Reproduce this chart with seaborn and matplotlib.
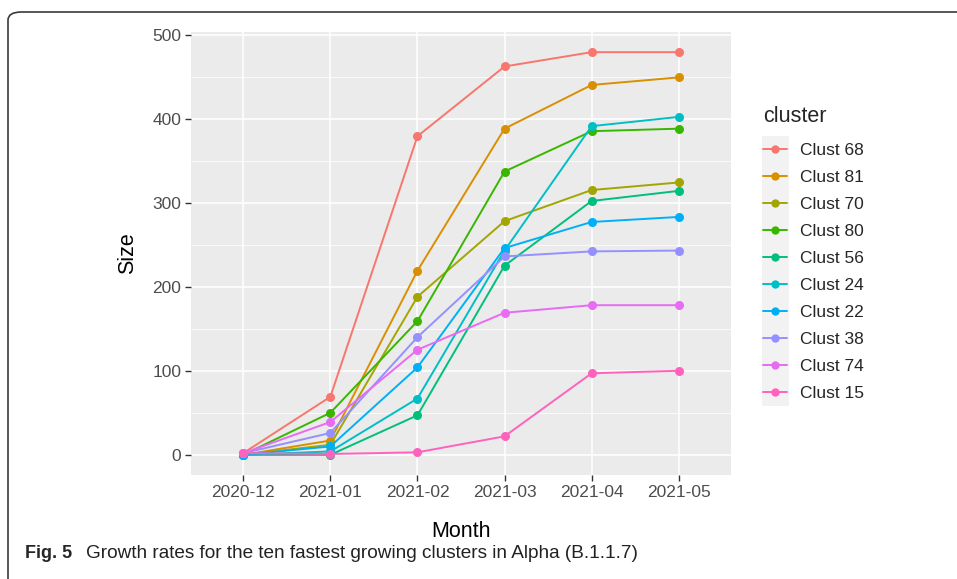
import pandas as pd
import numpy as np
import matplotlib.pyplot as plt
import seaborn as sns
from matplotlib.patches import FancyBboxPatch, Rectangle
from matplotlib.lines import Line2D

# Data

months = ['2020-12', '2021-01', '2021-02', '2021-03', '2021-04', '2021-05']
clusters = ['Clust 68', 'Clust 81', 'Clust 70', 'Clust 80', 'Clust 56',
            'Clust 24', 'Clust 22', 'Clust 38', 'Clust 74', 'Clust 15']

clust_68 = [2, 69, 379, 462, 479, 479]
clust_81 = [0, 17, 219, 388, 440, 449]
clust_70 = [0, 12, 188, 278, 315, 324]
clust_80 = [0, 50, 159, 337, 385, 388]
clust_56 = [0, 0, 47, 225, 302, 314]
clust_24 = [0, 4, 67, 243, 391, 402]
clust_22 = [0, 10, 104, 246, 277, 283]
clust_38 = [2, 26, 140, 236, 242, 243]
clust_74 = [2, 39, 125, 169, 178, 178]
clust_15 = [2, 1, 3, 22, 97, 100]

sizes = [clust_68, clust_81, clust_70, clust_80, clust_56,
         clust_24, clust_22, clust_38, clust_74, clust_15]

# ggplot2 default hue palette for 10 levels
gg_colors = ['#F8766D', '#D89000', '#A3A500', '#39B600', '#00BF7D',
             '#00BFC4', '#00B0F6', '#9590FF', '#E76BF3', '#FF62BC']

# long format table for seaborn
rows = []
for name, vals in zip(clusters, sizes):
    for m, v in zip(months, vals):
        rows.append({'Month': m, 'Size': v, 'cluster': name})
df = pd.DataFrame(rows)

#------------------------------------------------------------------------------

sns.set_theme(style='darkgrid')
plt.rcParams['font.family'] = ['Liberation Sans', 'DejaVu Sans']

W, H = 957, 579
fig = plt.figure(figsize=(W / 100, H / 100), dpi=100)
fig.patch.set_facecolor('white')

# panel position in pixels: left 191, right 731, top 32, bottom 475
ax = fig.add_axes([191 / W, 1 - 475 / H, (731 - 191) / W, (475 - 32) / H])
ax.set_facecolor('#EBEBEB')

sns.lineplot(data=df, x='Month', y='Size', hue='cluster', hue_order=clusters,
             palette=gg_colors, marker='o', markersize=6.5, markeredgewidth=0,
             linewidth=1.4, sort=False, ax=ax, legend=False)

ax.set_xlim(-0.6, 5.6)
ax.set_ylim(-24, 503)
ax.set_yticks([0, 100, 200, 300, 400, 500])
ax.set_yticks([50, 150, 250, 350, 450], minor=True)
ax.grid(True, which='major', color='white', linewidth=1.1)
ax.grid(True, which='minor', axis='y', color='white', linewidth=0.55)
ax.set_axisbelow(True)
for s in ax.spines.values():
    s.set_visible(False)

ax.tick_params(axis='both', which='major', length=4, width=1.0, color='#333333',
               labelsize=12.5, labelcolor='#4D4D4D', pad=3, direction='out')
ax.tick_params(axis='both', which='minor', length=0)
ax.tick_params(bottom=True, left=True)

ax.set_xlabel('Month', fontsize=15.5, color='black', labelpad=15)
ax.set_ylabel('Size', fontsize=15.5, color='black', labelpad=10)

# legend to the right like ggplot, keys with line + point
handles = [Line2D([], [], color=c, linewidth=1.4, marker='o', markersize=6,
                  markeredgewidth=0) for c in gg_colors]
leg = ax.legend(handles, clusters, title='cluster', loc='upper left',
                bbox_to_anchor=(756 / W, 1 - 99 / H),
                bbox_transform=fig.transFigure, frameon=False, fontsize=12.5,
                title_fontsize=15.5, handlelength=1.4, handletextpad=0.75,
                labelspacing=0.68, borderaxespad=0)
leg._legend_box.align = 'left'
leg._legend_box.sep = leg._legend_box.sep + 3  # a bit more room under the title

# grey key background behind legend keys (drawn below the axes/legend)
fig.patches.append(Rectangle((762 / W, 1 - 406 / H), 27 / W, 270 / H,
                             transform=fig.transFigure, facecolor='#F2F2F2',
                             edgecolor='none', zorder=-1))

# figure caption
fig.text(25 / W, 1 - 554 / H, 'Fig. 5', fontsize=13, fontweight='bold',
         family=['Liberation Sans Narrow', 'Liberation Sans', 'DejaVu Sans'], va='center')
fig.text(86 / W, 1 - 554 / H, 'Growth rates for the ten fastest growing clusters in Alpha (B.1.1.7)',
         fontsize=13.7, family=['Liberation Sans Narrow', 'Liberation Sans', 'DejaVu Sans'],
         color='#222222', va='center')

# rounded frame around the figure (cut at right and bottom edges)
fig.patches.append(FancyBboxPatch((8 / W, -0.05), 1.2, (579 - 12) / H + 0.05,
                                  boxstyle='round,pad=0,rounding_size=0.014',
                                  transform=fig.transFigure, facecolor='none',
                                  edgecolor='#3A3A3A', linewidth=1.2, zorder=5))

plt.savefig('out.png', dpi=100)
